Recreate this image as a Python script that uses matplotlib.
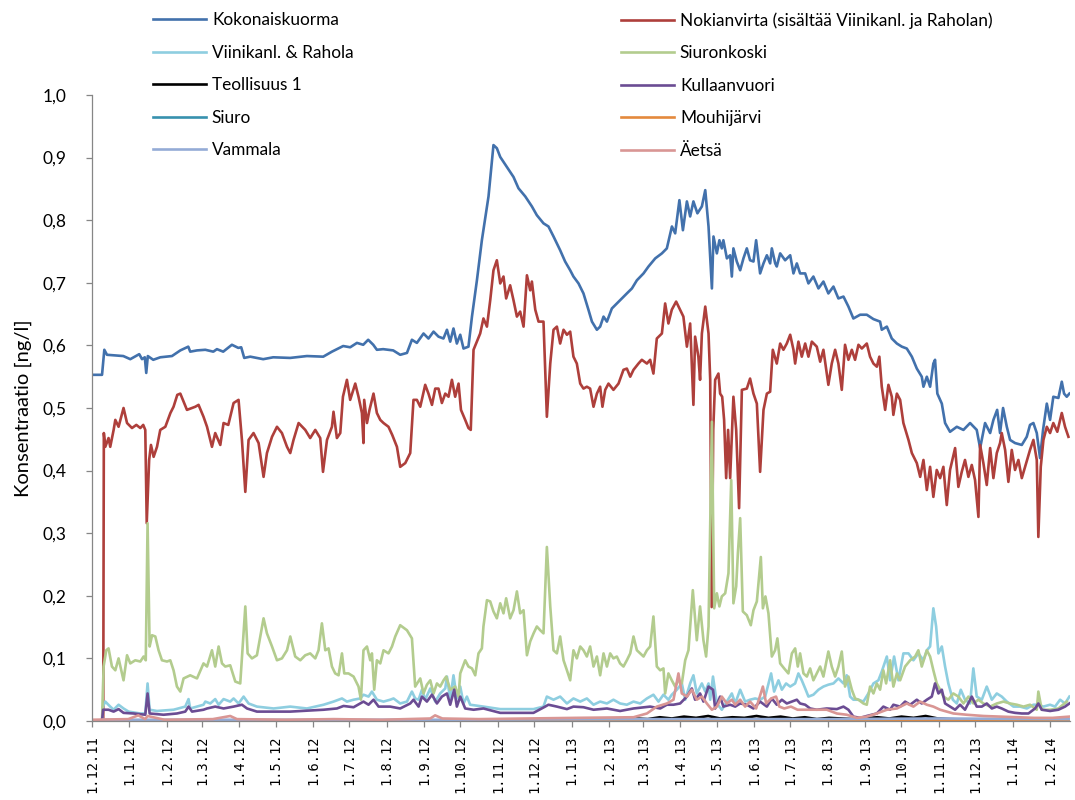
import datetime as dt
import matplotlib
matplotlib.use("Agg")
import matplotlib.pyplot as plt
import matplotlib.dates as mdates
import numpy as np

plt.rcParams['font.family'] = ['Lato', 'DejaVu Sans']

# ---- data: (days since 1.12.2011, concentration ng/l) per monitoring point ----
start_date = dt.date(2011, 12, 1)

kokonaiskuorma = [
    (0, 0.553), (8.3, 0.553), (10.2, 0.593), (12.4, 0.585), (25.9, 0.583), (31.7, 0.578), (39.1, 0.586),
    (41.4, 0.578), (43.7, 0.581), (44.9, 0.556), (46.2, 0.583), (50.7, 0.577), (56.5, 0.581), (66.2, 0.583),
    (73.1, 0.592), (79.7, 0.598), (81.3, 0.590), (86.9, 0.592), (93.8, 0.593), (100.4, 0.590), (103.4, 0.594),
    (108.6, 0.590), (115.8, 0.601), (121.1, 0.596), (123.5, 0.597), (126, 0.580), (131, 0.582), (141.7, 0.578),
    (150, 0.581), (164, 0.580), (177.9, 0.583), (191.4, 0.582), (198.6, 0.590), (207.9, 0.599), (213.7, 0.597),
    (219.3, 0.604), (224.5, 0.601), (228.6, 0.609), (232.8, 0.601), (235.8, 0.593), (241, 0.594), (249.3, 0.592),
    (255.1, 0.585), (260.7, 0.588), (264.8, 0.609), (268.9, 0.604), (274.4, 0.619), (278.5, 0.611), (282.7, 0.622),
    (286.8, 0.614), (290.9, 0.611), (293.8, 0.625), (296.5, 0.606), (299.2, 0.627), (302, 0.603), (304.8, 0.617),
    (307.5, 0.595), (311.6, 0.598), (314.5, 0.646), (318.6, 0.704), (322.7, 0.768), (328.2, 0.838), (332.3, 0.920),
    (335.1, 0.915), (337.9, 0.901), (343.4, 0.885), (348.9, 0.869), (353, 0.851), (358.6, 0.838), (364.1, 0.822),
    (368.2, 0.808), (373.7, 0.795), (377.8, 0.790), (382, 0.774), (387.5, 0.752), (391.6, 0.734), (395.8, 0.720),
    (398.5, 0.710), (402.7, 0.699), (406.8, 0.683), (410.9, 0.657), (413.8, 0.638), (417.9, 0.625), (420.6, 0.630),
    (423.4, 0.646), (426.2, 0.638), (430.3, 0.659), (434.4, 0.667), (438.6, 0.675), (442.7, 0.683), (446.9, 0.691),
    (451, 0.704), (456.5, 0.715), (460.6, 0.726), (466.2, 0.739), (471.7, 0.747), (475.8, 0.755), (480, 0.790),
    (482.7, 0.779), (486.2, 0.832), (489.1, 0.784), (492.4, 0.830), (495.1, 0.806), (497.8, 0.830), (501.1, 0.811),
    (504.8, 0.822), (507.6, 0.848), (510.3, 0.790), (513.1, 0.691), (514.4, 0.774), (517.2, 0.747), (519.3, 0.768),
    (521.3, 0.755), (522.6, 0.768), (525.5, 0.739), (528.2, 0.744), (529.6, 0.710), (530.9, 0.755), (533.7, 0.734),
    (536.5, 0.720), (539.2, 0.739), (542, 0.755), (544.7, 0.736), (547.5, 0.734), (549.7, 0.768), (553, 0.715),
    (555.8, 0.731), (558.6, 0.744), (561.3, 0.731), (562.7, 0.755), (565.5, 0.731), (566.8, 0.726), (569.6, 0.747),
    (573.7, 0.736), (577.9, 0.744), (580.6, 0.715), (583.4, 0.731), (586.1, 0.715), (590.3, 0.715), (593, 0.699),
    (597.1, 0.710), (601.3, 0.691), (605.4, 0.702), (609.5, 0.683), (613.7, 0.694), (617.8, 0.675), (622, 0.678),
    (626.1, 0.662), (630.2, 0.643), (635.8, 0.649), (641.3, 0.649), (646.8, 0.642), (652.3, 0.638), (653.7, 0.625),
    (657.9, 0.630), (662, 0.611), (666.2, 0.603), (670.3, 0.598), (674.4, 0.595), (678.6, 0.582), (682.7, 0.563),
    (686.8, 0.550), (688.2, 0.534), (691, 0.550), (693.7, 0.534), (696.4, 0.571), (697.8, 0.577), (699.7, 0.523),
    (703.4, 0.507), (706.1, 0.476), (710.2, 0.462), (715.8, 0.470), (721.3, 0.465), (726.8, 0.476), (732.3, 0.465),
    (735.1, 0.436), (739.2, 0.476), (743.4, 0.460), (746.1, 0.481), (749.2, 0.497), (751.6, 0.460), (754.1, 0.500),
    (757.2, 0.470), (759.9, 0.449), (764, 0.444), (769.6, 0.441), (773.7, 0.454), (776.4, 0.473), (779.2, 0.476),
    (782, 0.460), (784.7, 0.420), (787.2, 0.465), (790.3, 0.507), (793, 0.481), (795.7, 0.518), (799.9, 0.516),
    (802.7, 0.542), (804.6, 0.523), (806.8, 0.518), (809, 0.523),
]

nokianvirta = [
    (0, 0.0), (9.3, 0.0), (9.8, 0.460), (11, 0.438), (13.7, 0.452), (15.1, 0.438), (17.9, 0.465), (19.3, 0.481),
    (22, 0.470), (26.1, 0.500), (29, 0.476), (33.1, 0.468), (36.7, 0.473), (40, 0.468), (42.4, 0.473), (44.1, 0.465),
    (45.3, 0.316), (47.3, 0.417), (48.8, 0.441), (51, 0.422), (53.8, 0.438), (56.5, 0.465), (60.7, 0.470),
    (64.9, 0.492), (67.5, 0.502), (70.6, 0.521), (73.1, 0.523), (78.6, 0.497), (85.5, 0.502), (88.2, 0.505),
    (92.3, 0.486), (95.2, 0.470), (99.3, 0.438), (102, 0.460), (106.2, 0.441), (108.9, 0.476), (112.8, 0.473),
    (117.2, 0.508), (121.3, 0.513), (124.1, 0.449), (126.9, 0.366), (129.6, 0.449), (133.7, 0.460), (137.9, 0.444),
    (142, 0.390), (144.8, 0.428), (149, 0.454), (153.1, 0.470), (157.2, 0.460), (161.4, 0.438), (164.1, 0.428),
    (166.8, 0.449), (171, 0.476), (176.5, 0.465), (180.6, 0.452), (184.8, 0.465), (188.9, 0.452), (191.2, 0.398),
    (194.5, 0.449), (198.6, 0.470), (199.9, 0.494), (202.7, 0.452), (205.5, 0.460), (207.7, 0.518), (211, 0.545),
    (213.7, 0.513), (217.9, 0.539), (220.6, 0.518), (223.4, 0.492), (224.7, 0.444), (225.3, 0.513), (227.6, 0.476),
    (229.7, 0.497), (233, 0.523), (235.8, 0.492), (238.6, 0.481), (241.3, 0.476), (245.4, 0.470), (248.5, 0.457),
    (252.4, 0.438), (255.1, 0.406), (259.3, 0.412), (263.4, 0.428), (266.1, 0.513), (268.9, 0.513), (271.7, 0.502),
    (275.8, 0.537), (278.5, 0.523), (281.4, 0.505), (284.1, 0.531), (286.8, 0.531), (289.6, 0.508), (292.4, 0.523),
    (295.1, 0.518), (297.9, 0.545), (300.6, 0.518), (303.4, 0.539), (305.4, 0.497), (308.9, 0.481), (311.6, 0.468),
    (313.5, 0.465), (315.8, 0.593), (321.3, 0.619), (324, 0.643), (326.9, 0.630), (329.6, 0.672), (332.3, 0.720),
    (335.1, 0.736), (337.9, 0.699), (340.6, 0.710), (342.8, 0.675), (346.1, 0.696), (348.9, 0.672), (351.7, 0.646),
    (354.4, 0.654), (357.2, 0.630), (360, 0.712), (362.7, 0.688), (364.1, 0.702), (366.9, 0.657), (369.6, 0.638),
    (373.7, 0.638), (376.5, 0.486), (379.3, 0.571), (382, 0.625), (384.8, 0.630), (387.5, 0.603), (390.3, 0.625),
    (393.1, 0.617), (395.8, 0.622), (398.5, 0.582), (401.3, 0.571), (404.1, 0.539), (406.8, 0.531), (409.6, 0.534),
    (412.3, 0.531), (415.1, 0.502), (417.9, 0.523), (420.6, 0.534), (422.5, 0.502), (424.8, 0.529), (427.5, 0.539),
    (431.6, 0.529), (435.8, 0.539), (439.9, 0.561), (442.7, 0.563), (445.5, 0.550), (448.2, 0.561), (452.3, 0.571),
    (455.1, 0.577), (459.3, 0.571), (462, 0.577), (464.7, 0.555), (467.5, 0.611), (471.7, 0.619), (474.4, 0.667),
    (477.1, 0.635), (479.9, 0.657), (483.5, 0.670), (486.8, 0.657), (489.5, 0.646), (492.4, 0.598), (495.1, 0.635),
    (497.8, 0.505), (499.2, 0.614), (501.9, 0.582), (503.3, 0.545), (504.8, 0.619), (507.6, 0.662), (510.3, 0.619),
    (511.7, 0.545), (512.9, 0.182), (514.2, 0.465), (515.8, 0.545), (518.5, 0.555), (519.9, 0.523), (521.6, 0.518),
    (523.2, 0.481), (524.9, 0.388), (526.5, 0.465), (528.2, 0.388), (530.9, 0.518), (533.2, 0.465), (535.6, 0.340),
    (537.9, 0.529), (542, 0.531), (544.7, 0.547), (547.5, 0.523), (550.3, 0.507), (553, 0.398), (555.8, 0.497),
    (558.6, 0.523), (561.3, 0.526), (563.5, 0.593), (566.8, 0.571), (569.6, 0.603), (572.3, 0.593), (575.1, 0.603),
    (577.9, 0.617), (580.6, 0.593), (582, 0.571), (584.7, 0.606), (587.5, 0.582), (590.3, 0.603), (593, 0.582),
    (595.8, 0.606), (599.9, 0.598), (602.7, 0.574), (605.4, 0.593), (609.5, 0.537), (612.3, 0.571), (615.1, 0.593),
    (617.8, 0.571), (620.6, 0.529), (623.3, 0.601), (626.1, 0.577), (628.9, 0.593), (631.6, 0.577), (634.4, 0.601),
    (637.2, 0.595), (641.3, 0.603), (644, 0.582), (646.8, 0.571), (649.6, 0.566), (651.7, 0.582), (653.7, 0.534),
    (656.5, 0.497), (659.2, 0.537), (662, 0.518), (663.3, 0.489), (666.2, 0.523), (668.9, 0.513), (671.6, 0.476),
    (675.8, 0.449), (678.6, 0.428), (682.7, 0.412), (685.5, 0.390), (688.2, 0.417), (691, 0.369), (693.7, 0.406),
    (696.4, 0.358), (699.2, 0.401), (702, 0.388), (704.7, 0.406), (707.5, 0.345), (710.2, 0.401), (714.4, 0.436),
    (717.1, 0.374), (719.9, 0.398), (722.6, 0.417), (725.4, 0.390), (728.2, 0.409), (730.9, 0.385), (733.7, 0.326),
    (735.1, 0.441), (737.8, 0.412), (740.6, 0.377), (743.4, 0.436), (746.1, 0.388), (748.9, 0.428), (751.6, 0.444),
    (753, 0.460), (755.8, 0.433), (758.5, 0.382), (761.3, 0.433), (764, 0.401), (766.8, 0.417), (769.6, 0.388),
    (772.3, 0.406), (776.4, 0.433), (779.2, 0.449), (782, 0.417), (783.3, 0.294), (785.3, 0.406), (787.5, 0.449),
    (790.3, 0.470), (793, 0.460), (795.7, 0.476), (799, 0.462), (802.7, 0.492), (805.4, 0.470), (808.2, 0.454),
]

viinikanl_rahola = [
    (0, 0.0), (8.3, 0.0), (9, 0.023), (11, 0.031), (15.1, 0.023), (17.9, 0.018), (22, 0.026), (26.1, 0.020),
    (30.3, 0.015), (40, 0.012), (44.1, 0.012), (46, 0.060), (47.7, 0.018), (53.8, 0.016), (67.5, 0.018),
    (77.2, 0.023), (79.9, 0.035), (81.3, 0.020), (92.3, 0.026), (93.8, 0.031), (97.9, 0.028), (102, 0.035),
    (104.8, 0.026), (108.9, 0.035), (114.4, 0.031), (117.2, 0.036), (121.3, 0.028), (125.5, 0.039), (129.6, 0.028),
    (136.5, 0.023), (150.3, 0.020), (164.1, 0.023), (177.9, 0.020), (191.7, 0.026), (199.9, 0.031), (206.9, 0.036),
    (211, 0.031), (216.5, 0.034), (222, 0.036), (224.7, 0.042), (228.9, 0.039), (231.7, 0.047), (235.8, 0.034),
    (241.3, 0.031), (246.8, 0.034), (249.6, 0.036), (255.1, 0.028), (260.7, 0.031), (264.8, 0.047), (267.5, 0.036),
    (270.3, 0.034), (273.1, 0.050), (275.8, 0.034), (280, 0.052), (284.1, 0.031), (288.2, 0.044), (292.4, 0.052),
    (293.8, 0.071), (296.5, 0.034), (299.2, 0.073), (302, 0.036), (304.8, 0.055), (307.5, 0.028), (310.3, 0.039),
    (313, 0.026), (324, 0.023), (337.9, 0.019), (351.7, 0.019), (365.4, 0.019), (373.7, 0.023), (376.5, 0.039),
    (382, 0.034), (387.5, 0.039), (393.1, 0.028), (398.5, 0.036), (404.1, 0.031), (409.6, 0.036), (415.1, 0.026),
    (420.6, 0.031), (426.2, 0.028), (431.6, 0.034), (437.1, 0.028), (442.7, 0.026), (448.2, 0.031), (453.8, 0.028),
    (459.3, 0.036), (464.7, 0.042), (468.9, 0.031), (473, 0.042), (477.1, 0.034), (479.9, 0.042), (484.1, 0.050),
    (488.2, 0.060), (491, 0.034), (495.1, 0.060), (497.8, 0.073), (500.6, 0.044), (504.8, 0.060), (507.6, 0.047),
    (510.3, 0.060), (511.7, 0.034), (514, 0.071), (517.2, 0.028), (521.3, 0.018), (525.5, 0.031), (529.6, 0.044),
    (532.4, 0.028), (536.5, 0.050), (540.6, 0.031), (544.7, 0.034), (548.9, 0.036), (553, 0.034), (557.2, 0.039),
    (562.1, 0.076), (564.6, 0.047), (568.2, 0.065), (571, 0.050), (574.5, 0.060), (577.9, 0.055), (582, 0.060),
    (584.7, 0.076), (587.5, 0.065), (590.3, 0.052), (593, 0.039), (597.1, 0.042), (601.3, 0.050), (605.4, 0.055),
    (609.5, 0.058), (613.7, 0.060), (617.8, 0.068), (622, 0.060), (624.7, 0.073), (627.5, 0.039), (630.2, 0.034),
    (634.4, 0.034), (638.5, 0.031), (642.6, 0.044), (646.8, 0.060), (650.9, 0.065), (653.7, 0.079), (657.9, 0.103),
    (660.6, 0.065), (663.9, 0.103), (667.5, 0.065), (671.6, 0.108), (675.8, 0.108), (679.9, 0.097), (684, 0.108),
    (688.2, 0.097), (691, 0.113), (693.7, 0.119), (696.4, 0.180), (698.7, 0.151), (700.6, 0.108), (703.4, 0.119),
    (706.1, 0.087), (708.8, 0.060), (712.5, 0.034), (715.8, 0.028), (719.1, 0.050), (722.6, 0.034), (726.8, 0.028),
    (729.5, 0.084), (732.3, 0.039), (736.5, 0.034), (740.6, 0.055), (744.8, 0.034), (748.9, 0.044), (753, 0.039),
    (757.2, 0.031), (762.7, 0.023), (768.2, 0.023), (773.8, 0.020), (779.2, 0.026), (783.3, 0.026), (787.5, 0.023),
    (793, 0.026), (797.1, 0.023), (801.3, 0.034), (805.4, 0.028), (809, 0.039),
]

siuronkoski = [
    (0, 0.0), (8.3, 0.0), (9.6, 0.087), (11.8, 0.113), (13.7, 0.116), (16.5, 0.087), (19.3, 0.081), (22, 0.100),
    (26.1, 0.065), (29, 0.105), (31.7, 0.092), (35.8, 0.097), (40, 0.095), (42.7, 0.103), (44.5, 0.097),
    (46, 0.316), (47.7, 0.119), (49.7, 0.137), (52.4, 0.135), (55.1, 0.113), (57.9, 0.097), (62.1, 0.095),
    (64.8, 0.097), (67.5, 0.081), (70.3, 0.055), (73.1, 0.047), (75.8, 0.068), (81.3, 0.073), (86.9, 0.068),
    (92.3, 0.092), (95.2, 0.087), (99.3, 0.113), (102, 0.087), (104.8, 0.119), (107.6, 0.092), (110.3, 0.087),
    (114.4, 0.089), (118.6, 0.063), (122.7, 0.060), (126.9, 0.183), (128.8, 0.108), (132.4, 0.100), (136.5, 0.105),
    (142, 0.164), (144.8, 0.140), (149, 0.119), (153.1, 0.097), (157.2, 0.100), (161.4, 0.113), (164.1, 0.135),
    (168.2, 0.103), (172.4, 0.097), (176.5, 0.105), (180.6, 0.108), (184.8, 0.100), (187.5, 0.113), (190.3, 0.156),
    (193.1, 0.113), (195.8, 0.116), (198.6, 0.087), (201.3, 0.076), (204.1, 0.073), (206.9, 0.108), (208.8, 0.076),
    (212.3, 0.076), (216.5, 0.071), (220.6, 0.055), (222.6, 0.034), (224.7, 0.113), (227.6, 0.119), (230.3, 0.097),
    (231.7, 0.108), (233.6, 0.050), (235.8, 0.097), (238.6, 0.092), (241.3, 0.113), (245.4, 0.108), (248.3, 0.119),
    (251, 0.135), (255.1, 0.153), (260.7, 0.145), (264.8, 0.132), (267.5, 0.055), (271.7, 0.068), (274.4, 0.044),
    (277.2, 0.058), (280, 0.065), (282.7, 0.044), (285.5, 0.060), (288.2, 0.055), (291, 0.065), (293.2, 0.071),
    (296.5, 0.050), (300.6, 0.055), (303.4, 0.039), (304.8, 0.076), (308.9, 0.097), (311.6, 0.087), (314.5, 0.084),
    (317.2, 0.073), (319.9, 0.108), (322.7, 0.116), (324, 0.151), (326.9, 0.193), (329.6, 0.191), (332.3, 0.175),
    (335.1, 0.164), (337.9, 0.188), (340.6, 0.172), (342.8, 0.196), (346.1, 0.164), (348.9, 0.177), (351.7, 0.207),
    (354.4, 0.172), (357.2, 0.177), (360, 0.105), (362.7, 0.127), (365.5, 0.140), (368.2, 0.151), (371, 0.145),
    (373.7, 0.140), (376.5, 0.278), (379.3, 0.183), (382, 0.113), (384.8, 0.108), (387.5, 0.135), (390.3, 0.097),
    (393.1, 0.081), (395.8, 0.065), (398.5, 0.113), (401.3, 0.100), (404.1, 0.119), (406.8, 0.113), (409.6, 0.103),
    (412.3, 0.119), (415.1, 0.087), (417.9, 0.103), (420.6, 0.073), (423.4, 0.108), (426.2, 0.087), (428.9, 0.108),
    (431.6, 0.100), (434.4, 0.103), (437.1, 0.092), (439.9, 0.087), (442.7, 0.097), (445.5, 0.108), (448.2, 0.135),
    (451, 0.113), (453.8, 0.108), (456.5, 0.103), (459.3, 0.113), (462, 0.119), (464.7, 0.167), (467.5, 0.087),
    (470.3, 0.081), (473, 0.084), (474.4, 0.044), (477.1, 0.076), (479.9, 0.065), (482.7, 0.055), (485.4, 0.065),
    (488.2, 0.060), (491, 0.097), (493.7, 0.113), (497.3, 0.209), (500.6, 0.129), (503.3, 0.183), (506.1, 0.129),
    (508.3, 0.103), (510.3, 0.151), (513.1, 0.478), (515, 0.180), (517.2, 0.204), (519.3, 0.183), (521.3, 0.199),
    (524.1, 0.204), (526.8, 0.236), (529.1, 0.385), (530.9, 0.188), (533.2, 0.215), (534.6, 0.268), (536.5, 0.324),
    (538.7, 0.175), (542, 0.169), (545.3, 0.153), (547.5, 0.177), (550.3, 0.191), (553.6, 0.262), (555.3, 0.180),
    (557.4, 0.199), (559.9, 0.172), (562.7, 0.103), (565.4, 0.113), (567.3, 0.132), (569.6, 0.092), (572.9, 0.084),
    (576.4, 0.076), (579.3, 0.108), (582, 0.116), (584.2, 0.087), (586.1, 0.108), (588.9, 0.076), (591.7, 0.071),
    (594.4, 0.084), (597.1, 0.065), (599.9, 0.076), (602.7, 0.087), (605.4, 0.071), (609.5, 0.111), (612.3, 0.087),
    (615.1, 0.071), (617.8, 0.087), (620.6, 0.111), (623.3, 0.055), (626.1, 0.071), (628.9, 0.050), (631.6, 0.036),
    (634.4, 0.034), (638.5, 0.028), (641.3, 0.026), (644, 0.055), (646.8, 0.044), (649.6, 0.060), (652.3, 0.050),
    (655, 0.081), (657.3, 0.060), (660.6, 0.097), (663.3, 0.055), (666.2, 0.076), (668.9, 0.065), (673, 0.087),
    (677.2, 0.097), (681.3, 0.103), (684, 0.113), (686.8, 0.087), (691, 0.113), (693.7, 0.103), (696.4, 0.081),
    (699.2, 0.060), (702, 0.050), (704.7, 0.039), (708.8, 0.034), (712.9, 0.044), (717.1, 0.039), (721.3, 0.028),
    (725.4, 0.039), (729.5, 0.028), (733.7, 0.034), (737.8, 0.028), (743.4, 0.023), (748.9, 0.028), (754.4, 0.031),
    (759.9, 0.028), (765.5, 0.026), (771, 0.023), (776.4, 0.026), (782, 0.018), (783.3, 0.047), (786.1, 0.018),
    (793, 0.018), (799.9, 0.020), (806.8, 0.031),
]

teollisuus_1 = [
    (0, 0.0), (8.3, 0.0), (9, 0.001), (100, 0.001), (200, 0.001), (300, 0.001), (400, 0.002), (430, 0.003),
    (440, 0.002), (450, 0.004), (460, 0.003), (470, 0.006), (480, 0.004), (490, 0.007), (500, 0.005),
    (510, 0.008), (520, 0.004), (530, 0.006), (540, 0.005), (550, 0.008), (560, 0.005), (570, 0.007),
    (580, 0.004), (590, 0.006), (600, 0.003), (610, 0.005), (620, 0.004), (630, 0.003), (640, 0.004),
    (650, 0.006), (660, 0.004), (670, 0.007), (680, 0.005), (690, 0.008), (700, 0.004), (710, 0.003),
    (730, 0.002), (760, 0.002), (809, 0.002),
]

kullaanvuori = [
    (0, 0.0), (8.3, 0.0), (9.2, 0.018), (13.7, 0.018), (17.9, 0.015), (22, 0.019), (26.1, 0.013), (34.4, 0.012),
    (44.1, 0.010), (46, 0.044), (47.7, 0.012), (59.2, 0.010), (70.3, 0.012), (77.2, 0.015), (79.9, 0.023),
    (82.8, 0.015), (92.3, 0.018), (95.2, 0.020), (102, 0.023), (108.9, 0.020), (117.2, 0.023), (124.1, 0.026),
    (128.3, 0.020), (136.5, 0.015), (164.1, 0.015), (191.7, 0.018), (202.7, 0.020), (208.2, 0.024), (216.5, 0.022),
    (224.7, 0.031), (228.9, 0.026), (233, 0.034), (237.2, 0.023), (246.8, 0.023), (255.1, 0.020), (263.4, 0.028),
    (266.1, 0.034), (270.3, 0.023), (273.1, 0.039), (277.2, 0.031), (281.4, 0.042), (285.5, 0.028), (289.6, 0.039),
    (293.8, 0.044), (296.5, 0.026), (299.8, 0.050), (302, 0.023), (304.8, 0.039), (308.9, 0.020), (315.8, 0.018),
    (324, 0.020), (337.9, 0.013), (365.4, 0.013), (375.1, 0.023), (377.8, 0.026), (384.8, 0.023), (393.1, 0.019),
    (398.5, 0.023), (406.8, 0.022), (415.1, 0.018), (426.2, 0.020), (437.1, 0.016), (448.2, 0.020), (462, 0.023),
    (470.3, 0.020), (475.8, 0.026), (481.3, 0.026), (486.8, 0.028), (492.4, 0.039), (496.5, 0.052), (499.2, 0.034),
    (503.3, 0.044), (506.1, 0.031), (510.3, 0.055), (514, 0.050), (515.8, 0.020), (519.9, 0.039), (522.6, 0.023),
    (528.2, 0.026), (532.4, 0.023), (536.5, 0.028), (542, 0.026), (547.5, 0.020), (553, 0.031), (558.6, 0.023),
    (562.7, 0.036), (566.8, 0.026), (571, 0.034), (575.1, 0.028), (579.3, 0.031), (583.4, 0.034), (586.1, 0.028),
    (590.3, 0.026), (594.4, 0.020), (599.9, 0.018), (608.2, 0.020), (616.5, 0.019), (622, 0.023), (626.1, 0.018),
    (630.2, 0.007), (635.8, 0.005), (641.3, 0.008), (649.6, 0.012), (655, 0.023), (660.6, 0.018), (663.3, 0.026),
    (668.9, 0.023), (673, 0.031), (677.2, 0.026), (682.7, 0.034), (686.8, 0.028), (691, 0.034), (695.1, 0.039),
    (697.8, 0.060), (700.6, 0.044), (703.4, 0.050), (706.1, 0.028), (710.2, 0.023), (714.4, 0.018), (718.5, 0.026),
    (722.6, 0.018), (728.2, 0.039), (732.3, 0.023), (736.5, 0.023), (740.6, 0.028), (744.8, 0.020), (748.9, 0.023),
    (753, 0.020), (758.5, 0.015), (764, 0.013), (769.6, 0.012), (775.1, 0.012), (780.6, 0.020), (783.3, 0.028),
    (786.1, 0.018), (793, 0.016), (799.9, 0.018), (805.4, 0.023), (809, 0.028),
]

siuro = [(0, 0.0), (8.3, 0.0), (9, 0.001), (400, 0.001), (600, 0.0015), (809, 0.001)]

mouhijarvi = [(0, 0.0), (400, 0.0), (450, 0.001), (600, 0.002), (700, 0.002), (760, 0.001), (809, 0.001)]

vammala = [(0, 0.0), (8.3, 0.0), (9, 0.002), (300, 0.002), (450, 0.003), (600, 0.003), (700, 0.004),
           (809, 0.003)]

aetsa = [
    (0, 0.002), (30, 0.003), (38.3, 0.009), (44, 0.003), (46, 0.008), (60, 0.002), (100, 0.003), (114.4, 0.008),
    (120, 0.003), (160, 0.002), (200, 0.003), (240, 0.002), (280, 0.004), (284, 0.009), (290, 0.004),
    (320, 0.003), (360, 0.004), (400, 0.005), (448.2, 0.006), (459.3, 0.012), (467.5, 0.023), (475.8, 0.028),
    (481.3, 0.034), (485.4, 0.076), (488.2, 0.044), (492.4, 0.039), (496.5, 0.050), (500.6, 0.034),
    (504.8, 0.039), (508.9, 0.028), (513.1, 0.018), (517.2, 0.023), (521.3, 0.039), (525.5, 0.028),
    (529.6, 0.034), (532.4, 0.026), (536.5, 0.034), (540.6, 0.023), (544.7, 0.031), (549.7, 0.020),
    (555.3, 0.055), (558, 0.028), (562.1, 0.036), (566.2, 0.039), (568.9, 0.023), (573, 0.020), (578.5, 0.023),
    (584, 0.018), (590, 0.018), (600, 0.018), (608.2, 0.018), (616.5, 0.012), (624.7, 0.010), (633, 0.005),
    (641.3, 0.007), (649.6, 0.012), (657.9, 0.018), (666.2, 0.020), (674.4, 0.028), (679.9, 0.023),
    (685.5, 0.031), (691, 0.026), (696.4, 0.023), (702, 0.018), (707.5, 0.015), (713, 0.012), (724, 0.010),
    (738, 0.008), (752, 0.007), (766, 0.006), (780, 0.005), (795, 0.005), (809, 0.007),
]

series_labels = ["Kokonaiskuorma", "Nokianvirta (sisältää Viinikanl. ja Raholan)", "Viinikanl. & Rahola",
                 "Siuronkoski", "Teollisuus 1", "Kullaanvuori", "Siuro", "Mouhijärvi", "Vammala", "Äetsä"]
series_colors = ["#4271AC", "#AE3F3B", "#8ECEE0", "#B3CC8E", "#000000", "#6B4C93", "#3791AE",
                 "#E4893D", "#94ABD6", "#D99694"]
series_data = [kokonaiskuorma, nokianvirta, viinikanl_rahola, siuronkoski, teollisuus_1, kullaanvuori,
               siuro, mouhijarvi, vammala, aetsa]

y_ticks = [0.0, 0.1, 0.2, 0.3, 0.4, 0.5, 0.6, 0.7, 0.8, 0.9, 1.0]
x_end_day = 809.5

# ---- figure ----
W, H = 1075, 800
fig = plt.figure(figsize=(W / 100, H / 100), dpi=100)
ax = fig.add_axes([92 / W, 1 - 721 / H, (1070 - 92) / W, (721 - 95) / H])

t0 = mdates.date2num(start_date)
lines = {}
for lab, col, data in zip(series_labels, series_colors, series_data):
    arr = np.array(data, dtype=float)
    ln, = ax.plot(t0 + arr[:, 0], arr[:, 1], color=col, lw=1.9, solid_joinstyle='round', label=lab)
    lines[lab] = ln

ax.set_xlim(t0, t0 + x_end_day)
ax.set_ylim(0, 1.0)

# month ticks with d.m.yy labels
month_starts = []
y, m = 2011, 12
while dt.date(y, m, 1) <= start_date + dt.timedelta(days=x_end_day):
    month_starts.append(dt.date(y, m, 1))
    m += 1
    if m > 12:
        m, y = 1, y + 1
ax.set_xticks([mdates.date2num(d) for d in month_starts])
ax.set_xticklabels([f"{d.day}.{d.month}.{d.year % 100:02d}" for d in month_starts],
                   rotation=90, fontfamily='DejaVu Sans Mono', fontsize=9.8)
ax.set_yticks(y_ticks)
ax.set_yticklabels([f"{v:.1f}".replace('.', ',') for v in y_ticks], fontsize=12.5)

for side in ('top', 'right'):
    ax.spines[side].set_visible(False)
for side in ('left', 'bottom'):
    ax.spines[side].set_color('#868686')
    ax.spines[side].set_linewidth(0.9)
ax.tick_params(axis='both', direction='out', length=4.5, width=0.9, color='#868686', labelcolor='black')
ax.tick_params(axis='y', pad=14)
ax.tick_params(axis='x', pad=6)

fig.text(23 / W, 1 - 408 / H, "Konsentraatio [ng/l]", rotation=90, ha='center', va='center', fontsize=14.5)

# legend in two columns, filled row by row
col1 = ["Kokonaiskuorma", "Viinikanl. & Rahola", "Teollisuus 1", "Siuro", "Vammala"]
col2 = ["Nokianvirta (sisältää Viinikanl. ja Raholan)", "Siuronkoski", "Kullaanvuori", "Mouhijärvi", "Äetsä"]
leg_kw = dict(loc='upper left', frameon=False, fontsize=12.4, handlelength=3.1, handletextpad=0.32,
              labelspacing=0.96, borderpad=0, borderaxespad=0)
fig.legend([lines[k] for k in col1], col1, bbox_to_anchor=(153 / W, 1 - 12 / H), **leg_kw)
fig.legend([lines[k] for k in col2], col2, bbox_to_anchor=(621 / W, 1 - 12 / H), **leg_kw)

fig.savefig("out.png", dpi=100)
